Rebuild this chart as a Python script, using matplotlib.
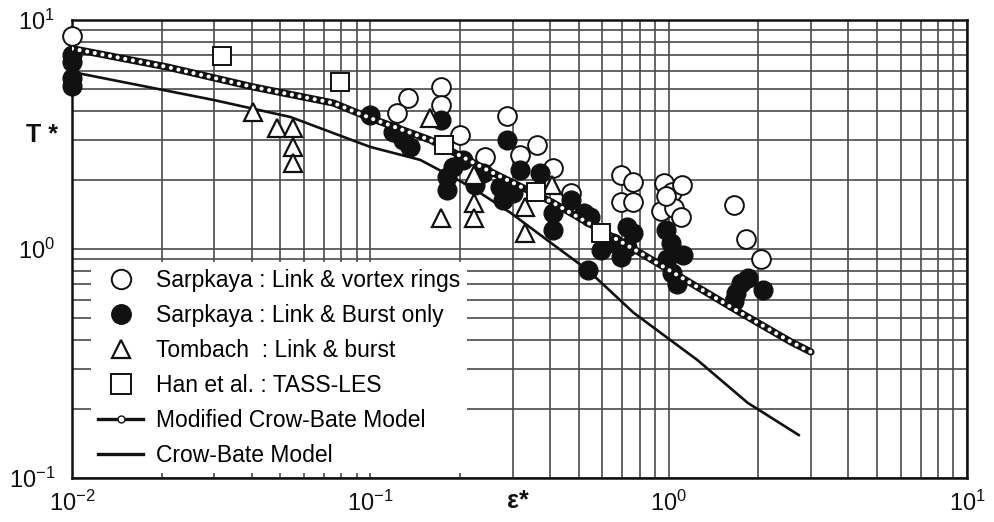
import matplotlib.pyplot as plt
from matplotlib.lines import Line2D

plt.rcParams['font.family'] = ['Liberation Sans', 'DejaVu Sans']
plt.rcParams['mathtext.default'] = 'regular'

# Sarpkaya : link & vortex rings (open circles)
ring_eps = [0.010, 0.134, 0.172, 0.172, 0.123, 0.200, 0.288, 0.363, 0.318, 0.243,
            0.411, 0.469, 0.690, 0.757, 0.690, 0.757, 0.962, 1.03, 1.11, 0.94,
            1.04, 1.10, 0.98, 1.65, 1.81, 2.04]
ring_T = [8.5, 4.56, 5.10, 4.25, 3.93, 3.15, 3.81, 2.84, 2.57, 2.52,
          2.26, 1.76, 2.10, 1.96, 1.60, 1.60, 1.94, 1.77, 1.90, 1.47,
          1.51, 1.38, 1.70, 1.56, 1.11, 0.90]

# Sarpkaya : link & burst only (filled circles)
burst_eps = [0.010, 0.010, 0.010, 0.010, 0.100, 0.119, 0.129, 0.136, 0.172, 0.181,
             0.181, 0.190, 0.205, 0.225, 0.239, 0.273, 0.288, 0.318, 0.371, 0.279,
             0.302, 0.411, 0.411, 0.469, 0.519, 0.547, 0.535, 0.592, 0.653, 0.690,
             0.728, 0.757, 0.728, 0.977, 1.02, 1.12, 0.99, 1.03, 1.07, 1.75,
             1.84, 2.07, 1.68, 1.65]
burst_T = [7.03, 6.56, 5.58, 5.15, 3.85, 3.24, 2.99, 2.79, 3.66, 2.06,
           1.81, 2.28, 2.45, 1.90, 2.15, 1.87, 2.99, 2.21, 2.15, 1.64,
           1.76, 1.44, 1.21, 1.64, 1.44, 1.38, 0.81, 0.99, 1.06, 0.92,
           1.25, 1.17, 1.02, 1.21, 1.06, 0.94, 0.90, 0.785, 0.70, 0.71,
           0.75, 0.66, 0.64, 0.59]

# Tombach : link & burst (triangles)
tomb_eps = [0.0405, 0.0488, 0.0552, 0.0552, 0.0552, 0.159, 0.222, 0.222, 0.222,
            0.172, 0.331, 0.331, 0.408]
tomb_T = [3.96, 3.38, 3.38, 2.79, 2.38, 3.73, 2.10, 1.59, 1.37,
          1.37, 1.53, 1.17, 1.90]

# Han et al. : TASS-LES (squares)
les_eps = [0.0318, 0.079, 0.176, 0.358, 0.592]
les_T = [6.97, 5.36, 2.84, 1.77, 1.17]

# model curves
mod_eps = [0.010, 0.0209, 0.0405, 0.0752, 0.100, 0.159, 0.247, 0.407,
           0.805, 1.186, 1.745, 2.57, 3.0]
mod_T = [7.5, 6.23, 5.1, 4.34, 3.73, 2.99, 2.21, 1.60,
         0.96, 0.71, 0.526, 0.393, 0.355]
cb_eps = [0.010, 0.0297, 0.054, 0.100, 0.147, 0.217, 0.295, 0.393,
          0.535, 0.764, 1.25, 1.84, 2.73]
cb_T = [5.93, 4.48, 3.77, 2.79, 2.45, 1.87, 1.44, 1.09,
        0.81, 0.526, 0.327, 0.213, 0.154]

fig = plt.figure(figsize=(9.94, 5.22), dpi=100)
ax = fig.add_axes([0.0724, 0.0843, 0.9004, 0.8774])
ax.set_xscale('log')
ax.set_yscale('log')
ax.set_xlim(1e-2, 1e1)
ax.set_ylim(1e-1, 1e1)

ax.grid(True, which='both', color='#4a4a4a', lw=1.2)
ax.set_axisbelow(True)
ax.tick_params(which='both', length=0, labelsize=17, colors='#111111')
ax.tick_params(axis='x', pad=9)
ax.tick_params(axis='y', pad=12)
for sp in ax.spines.values():
    sp.set_linewidth(1.8)
    sp.set_color('#111111')

ms = 13.5
ax.plot(ring_eps, ring_T, 'o', ms=ms, mfc='white', mec='#111111', mew=1.4,
        clip_on=False, zorder=3)
ax.plot(burst_eps, burst_T, 'o', ms=ms, mfc='#111111', mec='#111111', mew=1.0,
        clip_on=False, zorder=4)

# Crow-Bate curve
ax.plot(cb_eps, cb_T, '-', color='#111111', lw=1.9, zorder=5)

# modified model: chain of small rings
ax.plot(mod_eps, mod_T, '-', color='#111111', lw=5.2, solid_capstyle='round',
        zorder=5)
ax.plot(mod_eps, mod_T, color='white', lw=3.0, linestyle=(0, (0.01, 1.85)),
        dash_capstyle='round', zorder=5.1)

ax.plot(tomb_eps, tomb_T, '^', ms=12.5, mfc='white', mec='#111111', mew=1.6,
        zorder=6)
ax.plot(les_eps, les_T, 's', ms=ms, mfc='white', mec='#111111', mew=1.4,
        zorder=6)

ax.set_ylabel('T *', rotation=0, fontsize=18, fontweight='bold', color='#111111')
ax.yaxis.set_label_coords(-0.034, 0.722)
ax.set_xlabel('ε*', fontsize=18, fontweight='bold', color='#111111')
ax.xaxis.set_label_coords(0.498, -0.024)

handles = [
    Line2D([], [], ls='none', marker='o', ms=14, mfc='white', mec='#111111', mew=1.4),
    Line2D([], [], ls='none', marker='o', ms=14, mfc='#111111', mec='#111111'),
    Line2D([], [], ls='none', marker='^', ms=13, mfc='white', mec='#111111', mew=1.6),
    Line2D([], [], ls='none', marker='s', ms=14, mfc='white', mec='#111111', mew=1.4),
    Line2D([], [], color='#111111', lw=2.4, marker='o', ms=5, mfc='white', mec='#111111'),
    Line2D([], [], color='#111111', lw=2.4),
]
labels = ['Sarpkaya : Link & vortex rings',
          'Sarpkaya : Link & Burst only',
          'Tombach  : Link & burst',
          'Han et al. : TASS-LES',
          'Modified Crow-Bate Model',
          'Crow-Bate Model']
leg = ax.legend(handles, labels, loc='lower left', bbox_to_anchor=(0.021, 0.01),
                borderaxespad=0, fontsize=16.5, frameon=True, fancybox=False,
                facecolor='white', edgecolor='none', framealpha=1,
                handlelength=2.0, handletextpad=0.55, labelspacing=0.52,
                borderpad=0.3)
leg.set_zorder(7)

fig.savefig('out.png', dpi=100)
